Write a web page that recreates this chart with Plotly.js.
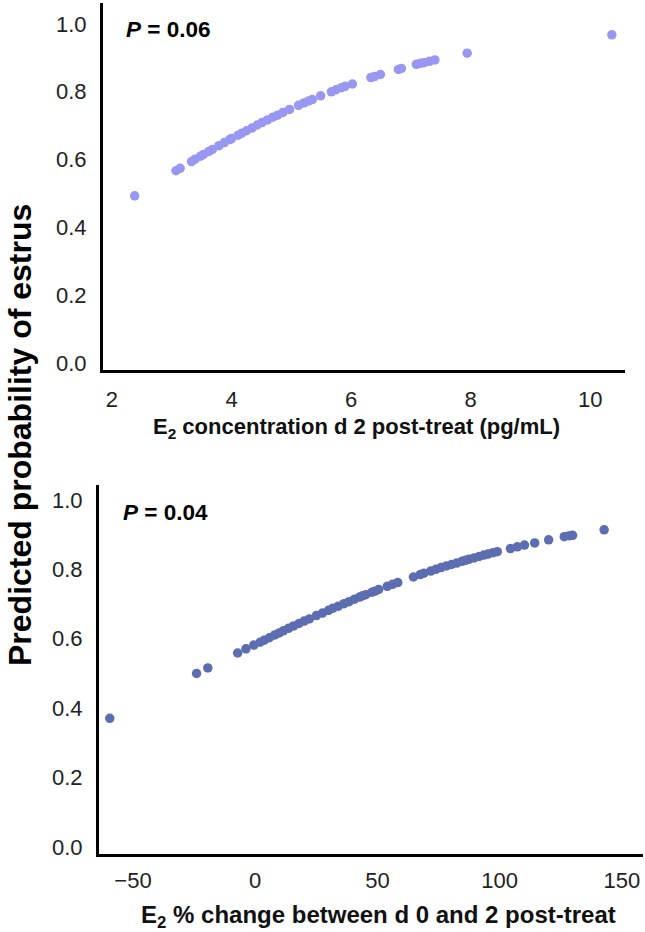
<!DOCTYPE html>
<html>
<head>
<meta charset="utf-8">
<script src="https://cdn.plot.ly/plotly-3.0.1.min.js"></script>
<style>html,body{margin:0;padding:0;background:#fff;}#chart{width:645px;height:932px;}</style>
</head>
<body>
<div id="chart"></div>
<script>
// Panel A: E2 concentration d 2 post-treat (pg/mL) vs predicted probability
const concX = [2.38, 3.07, 3.14, 3.33, 3.39, 3.48, 3.53, 3.62, 3.68, 3.79, 3.88, 3.97, 4.00, 4.11, 4.17, 4.25, 4.34, 4.43, 4.51, 4.60, 4.69, 4.77, 4.86, 4.97, 5.12, 5.21, 5.29, 5.35, 5.49, 5.67, 5.75, 5.84, 5.90, 6.02, 6.33, 6.39, 6.49, 6.79, 6.84, 7.09, 7.16, 7.22, 7.31, 7.40, 7.94, 10.36];
const concProb = [0.493, 0.567, 0.574, 0.594, 0.601, 0.610, 0.615, 0.624, 0.630, 0.641, 0.650, 0.659, 0.662, 0.672, 0.678, 0.685, 0.693, 0.702, 0.709, 0.717, 0.725, 0.731, 0.739, 0.748, 0.760, 0.767, 0.773, 0.777, 0.788, 0.800, 0.806, 0.812, 0.816, 0.823, 0.842, 0.845, 0.851, 0.866, 0.869, 0.881, 0.884, 0.886, 0.890, 0.894, 0.914, 0.968];

// Panel B: E2 % change between d 0 and 2 post-treat vs predicted probability
const changeX = [-59.5, -24.0, -19.4, -7.2, -3.8, -0.6, 2.0, 3.7, 5.8, 8.0, 9.8, 11.5, 13.6, 15.7, 17.9, 20.0, 22.1, 25.0, 27.5, 30.0, 31.8, 34.0, 36.3, 38.4, 40.6, 42.7, 44.0, 45.2, 47.7, 49.0, 50.5, 54.0, 56.2, 58.3, 64.7, 67.5, 69.0, 71.8, 73.9, 76.0, 78.2, 80.3, 82.4, 84.6, 86.0, 87.4, 89.5, 91.6, 93.5, 95.2, 97.3, 99.0, 104.4, 107.2, 110.1, 114.3, 120.0, 126.4, 128.5, 129.8, 142.7];
const changeProb = [0.371, 0.500, 0.516, 0.559, 0.571, 0.582, 0.590, 0.596, 0.603, 0.611, 0.617, 0.623, 0.630, 0.637, 0.644, 0.651, 0.657, 0.667, 0.674, 0.682, 0.688, 0.694, 0.701, 0.707, 0.714, 0.720, 0.724, 0.727, 0.734, 0.737, 0.742, 0.751, 0.757, 0.762, 0.778, 0.785, 0.789, 0.795, 0.800, 0.805, 0.810, 0.814, 0.818, 0.823, 0.826, 0.829, 0.833, 0.837, 0.841, 0.844, 0.848, 0.851, 0.860, 0.865, 0.870, 0.876, 0.885, 0.894, 0.897, 0.898, 0.914];

const yTickVals = [0, 0.2, 0.4, 0.6, 0.8, 1.0];
const yTickText = ['0.0', '0.2', '0.4', '0.6', '0.8', '1.0'];
const concTickVals = [2, 4, 6, 8, 10];
const changeTickVals = [-50, 0, 50, 100, 150];

const FONT = 'Liberation Sans, Arial, Helvetica, sans-serif';
const W = 645, H = 932;

const traces = [
  {x: concX, y: concProb, type: 'scatter', mode: 'markers', xaxis: 'x', yaxis: 'y',
   marker: {color: '#9898f2', size: 9.5}, hoverinfo: 'skip'},
  {x: changeX, y: changeProb, type: 'scatter', mode: 'markers', xaxis: 'x2', yaxis: 'y2',
   marker: {color: '#5d6db1', size: 9.5}, hoverinfo: 'skip'}
];

const axisCommon = {
  showgrid: false, zeroline: false, showline: true, linecolor: '#000', linewidth: 3,
  tickfont: {family: FONT, size: 22, color: '#222'}, fixedrange: true,
  ticks: 'outside', tickcolor: 'rgba(0,0,0,0)'
};

const layout = {
  width: W, height: H,
  margin: {l: 0, r: 0, t: 0, b: 0},
  paper_bgcolor: '#fff', plot_bgcolor: '#fff',
  showlegend: false,
  font: {family: FONT},
  xaxis: Object.assign({}, axisCommon, {
    ticklen: 8,
    domain: [103 / W, 625 / W], range: [1.85, 10.58],
    tickvals: concTickVals, anchor: 'y'
  }),
  yaxis: Object.assign({}, axisCommon, {
    ticklen: 9,
    domain: [1 - 370 / H, 1 - 3 / H], range: [-0.021, 1.062],
    tickvals: yTickVals, ticktext: yTickText, anchor: 'x'
  }),
  xaxis2: Object.assign({}, axisCommon, {
    ticklen: 5,
    domain: [99 / W, 643 / W], range: [-63.9, 158.6],
    tickvals: changeTickVals, anchor: 'y2'
  }),
  yaxis2: Object.assign({}, axisCommon, {
    ticklen: 9,
    domain: [1 - 854 / H, 1 - 485 / H], range: [-0.02, 1.043],
    tickvals: yTickVals, ticktext: yTickText, anchor: 'x2'
  }),
  annotations: [
    {text: '<b><i>P</i> = 0.06</b>', xref: 'paper', yref: 'paper', x: 124 / W, y: 1 - 29 / H,
     xanchor: 'left', yanchor: 'middle', showarrow: false, font: {family: FONT, size: 22.5, color: '#000'}},
    {text: '<b><i>P</i> = 0.04</b>', xref: 'paper', yref: 'paper', x: 121 / W, y: 1 - 512 / H,
     xanchor: 'left', yanchor: 'middle', showarrow: false, font: {family: FONT, size: 22.5, color: '#000'}},
    {text: '<b>E<sub>2</sub> concentration d 2 post-treat (pg/mL)</b>', xref: 'paper', yref: 'paper',
     x: 356 / W, y: 1 - 428 / H, xanchor: 'center', yanchor: 'middle', showarrow: false,
     font: {family: FONT, size: 22, color: '#111'}},
    {text: '<b>E<sub>2</sub> % change between d 0 and 2 post-treat</b>', xref: 'paper', yref: 'paper',
     x: 378 / W, y: 1 - 916 / H, xanchor: 'center', yanchor: 'middle', showarrow: false,
     font: {family: FONT, size: 24, color: '#111'}},
    {text: '<b>Predicted probability of estrus</b>', xref: 'paper', yref: 'paper',
     x: 20 / W, y: 1 - 435 / H, xanchor: 'center', yanchor: 'middle', textangle: -90, showarrow: false,
     font: {family: FONT, size: 32, color: '#000'}}
  ]
};

Plotly.newPlot('chart', traces, layout, {displayModeBar: false, staticPlot: true});
</script>
</body>
</html>
